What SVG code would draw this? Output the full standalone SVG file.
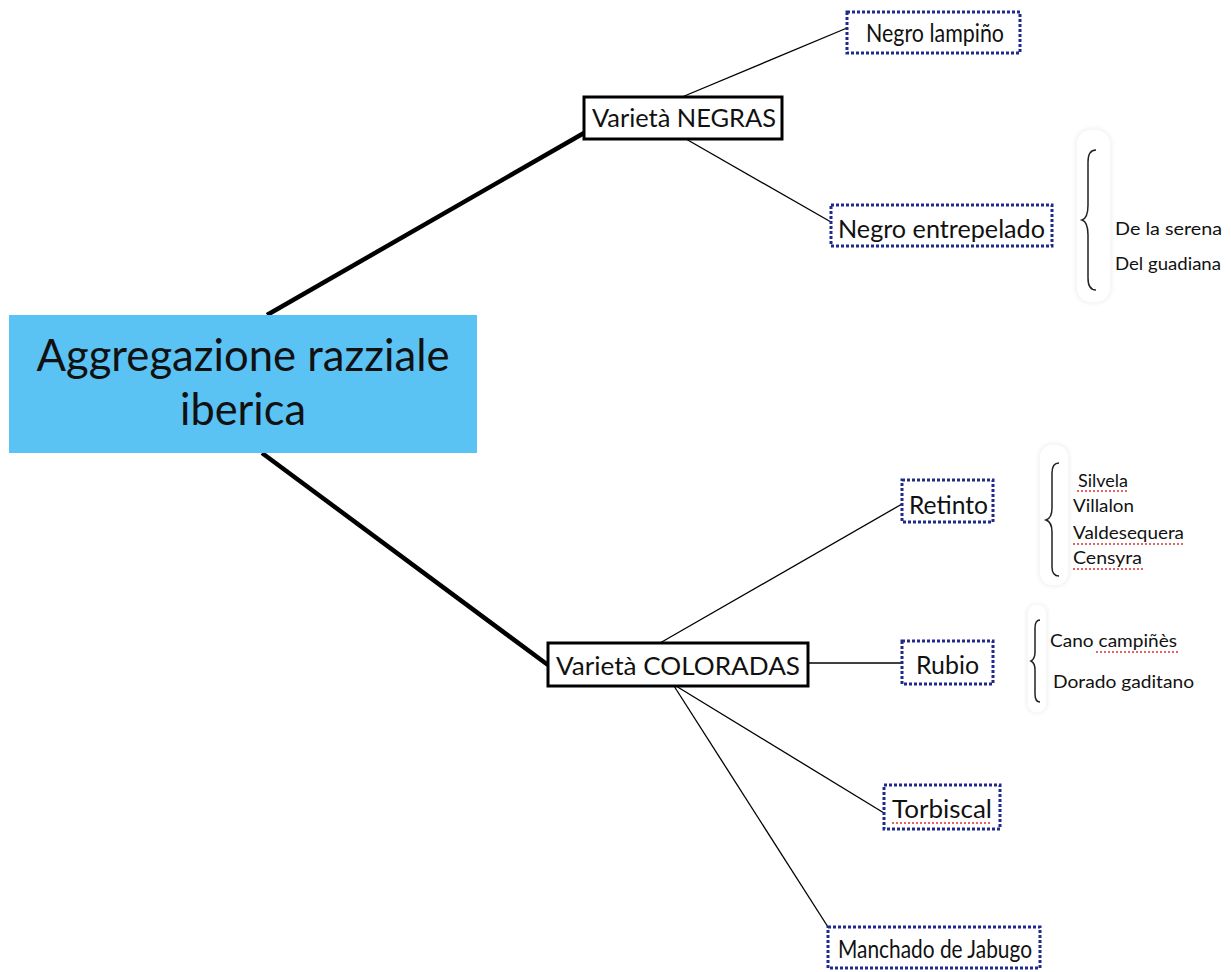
<svg xmlns="http://www.w3.org/2000/svg" width="1231" height="972" viewBox="0 0 1231 972">
<defs>
<style>
text{font-family:"Lato","Liberation Sans",sans-serif;fill:#111}
.main{fill:#5bc2f4}
.solid{fill:#fff;stroke:#000;stroke-width:3}
.dot{fill:#fff;stroke:#1f2a8c;stroke-width:3;stroke-dasharray:3 2}
.thick{stroke:#000;stroke-width:4.5;fill:none}
.thin{stroke:#000;stroke-width:1.3;fill:none}
.lbl{font-size:25px}
.sm{font-size:18px}
.spell{stroke:#e03030;stroke-width:1.6;stroke-dasharray:2 2;fill:none}
.pill{fill:#fff;stroke:#e4e4e4;stroke-width:2}
.brace{fill:none;stroke:#222;stroke-width:1.5}
</style>
<filter id="sh" x="-30%" y="-10%" width="160%" height="120%"><feGaussianBlur stdDeviation="2"/></filter>
</defs>
<rect width="1231" height="972" fill="#fff"/>
<g id="connectors">
<line class="thick" x1="267" y1="315" x2="584" y2="133"/>
<line class="thick" x1="262" y1="453" x2="548" y2="665"/>
<line class="thin" x1="682" y1="97" x2="847" y2="28"/>
<line class="thin" x1="686" y1="139" x2="831" y2="222"/>
<line class="thin" x1="660" y1="643" x2="902" y2="504"/>
<line class="thin" x1="808" y1="663" x2="902" y2="663"/>
<line class="thin" x1="676" y1="686" x2="884" y2="813"/>
<line class="thin" x1="674" y1="686" x2="828" y2="927"/>
</g>
<g id="root">
<rect class="main" x="9" y="315" width="468" height="138"/>
<text x="243" y="371" font-size="45" text-anchor="middle" textLength="413" lengthAdjust="spacingAndGlyphs">Aggregazione razziale</text>
<text x="243" y="425" font-size="45" text-anchor="middle" textLength="126" lengthAdjust="spacingAndGlyphs">iberica</text>
</g>
<g id="negras">
<rect class="solid" x="584" y="97" width="198" height="42"/>
<text class="lbl" x="592" y="127" textLength="184" lengthAdjust="spacingAndGlyphs">Varietà NEGRAS</text>
</g>
<g id="lampino">
<rect class="dot" x="847" y="12" width="173" height="41"/>
<text class="lbl" x="866" y="42" textLength="138" lengthAdjust="spacingAndGlyphs">Negro lampiño</text>
</g>
<g id="entrepelado">
<rect class="dot" x="831" y="205" width="221" height="41"/>
<text class="lbl" x="838" y="238" textLength="207" lengthAdjust="spacingAndGlyphs">Negro entrepelado</text>
</g>
<g id="entrepelado-sub">
<rect class="pill" x="1077" y="130" width="33" height="172" rx="14" filter="url(#sh)"/>
<rect x="1077" y="130" width="33" height="172" rx="14" fill="#fff"/>
<path class="brace" d="M1096,150 Q1088,150 1088,162 L1088,205 Q1088,218 1082,220 Q1088,222 1088,235 L1088,278 Q1088,290 1096,290"/>
<text class="sm" x="1115" y="235" textLength="107" lengthAdjust="spacingAndGlyphs">De la serena</text>
<text class="sm" x="1115" y="270" textLength="106" lengthAdjust="spacingAndGlyphs">Del guadiana</text>
</g>
<g id="coloradas">
<rect class="solid" x="548" y="643" width="260" height="43"/>
<text class="lbl" x="556" y="675" textLength="244" lengthAdjust="spacingAndGlyphs">Varietà COLORADAS</text>
</g>
<g id="retinto">
<rect class="dot" x="902" y="480" width="91" height="42"/>
<text class="lbl" x="909" y="514" textLength="79" lengthAdjust="spacingAndGlyphs">Retinto</text>
</g>
<g id="retinto-sub">
<rect class="pill" x="1040" y="445" width="28" height="140" rx="12" filter="url(#sh)"/>
<rect x="1040" y="445" width="28" height="140" rx="12" fill="#fff"/>
<path class="brace" d="M1059,463 Q1052,463 1052,473 L1052,508 Q1052,518 1046,520 Q1052,522 1052,532 L1052,567 Q1052,576 1059,576"/>
<text class="sm" x="1078" y="487" textLength="50" lengthAdjust="spacingAndGlyphs">Silvela</text>
<text class="sm" x="1073" y="512" textLength="61" lengthAdjust="spacingAndGlyphs">Villalon</text>
<text class="sm" x="1073" y="539" textLength="111" lengthAdjust="spacingAndGlyphs">Valdesequera</text>
<text class="sm" x="1073" y="564" textLength="69" lengthAdjust="spacingAndGlyphs">Censyra</text>
<line class="spell" x1="1077" y1="491" x2="1129" y2="491"/>
<line class="spell" x1="1073" y1="544" x2="1185" y2="544"/>
<line class="spell" x1="1073" y1="569" x2="1143" y2="569"/>
</g>
<g id="rubio">
<rect class="dot" x="902" y="641" width="91" height="43"/>
<text class="lbl" x="916" y="674" textLength="63" lengthAdjust="spacingAndGlyphs">Rubio</text>
</g>
<g id="rubio-sub">
<rect class="pill" x="1028" y="605" width="18" height="107" rx="8" filter="url(#sh)"/>
<rect x="1028" y="605" width="18" height="107" rx="8" fill="#fff"/>
<path class="brace" d="M1040,620 Q1035,620 1035,628 L1035,652 Q1035,659 1031,661 Q1035,663 1035,670 L1035,694 Q1035,702 1040,702"/>
<text class="sm" x="1050" y="647" textLength="127" lengthAdjust="spacingAndGlyphs">Cano campiñès</text>
<text class="sm" x="1053" y="688" textLength="141" lengthAdjust="spacingAndGlyphs">Dorado gaditano</text>
<line class="spell" x1="1096" y1="652" x2="1178" y2="652"/>
</g>
<g id="torbiscal">
<rect class="dot" x="884" y="785" width="116" height="44"/>
<text class="lbl" x="892" y="818" textLength="100" lengthAdjust="spacingAndGlyphs">Torbiscal</text>
<line class="spell" x1="892" y1="823" x2="992" y2="823"/>
</g>
<g id="manchado">
<rect class="dot" x="828" y="927" width="212" height="41"/>
<text class="lbl" x="838" y="958" textLength="194" lengthAdjust="spacingAndGlyphs">Manchado de Jabugo</text>
</g>
</svg>
